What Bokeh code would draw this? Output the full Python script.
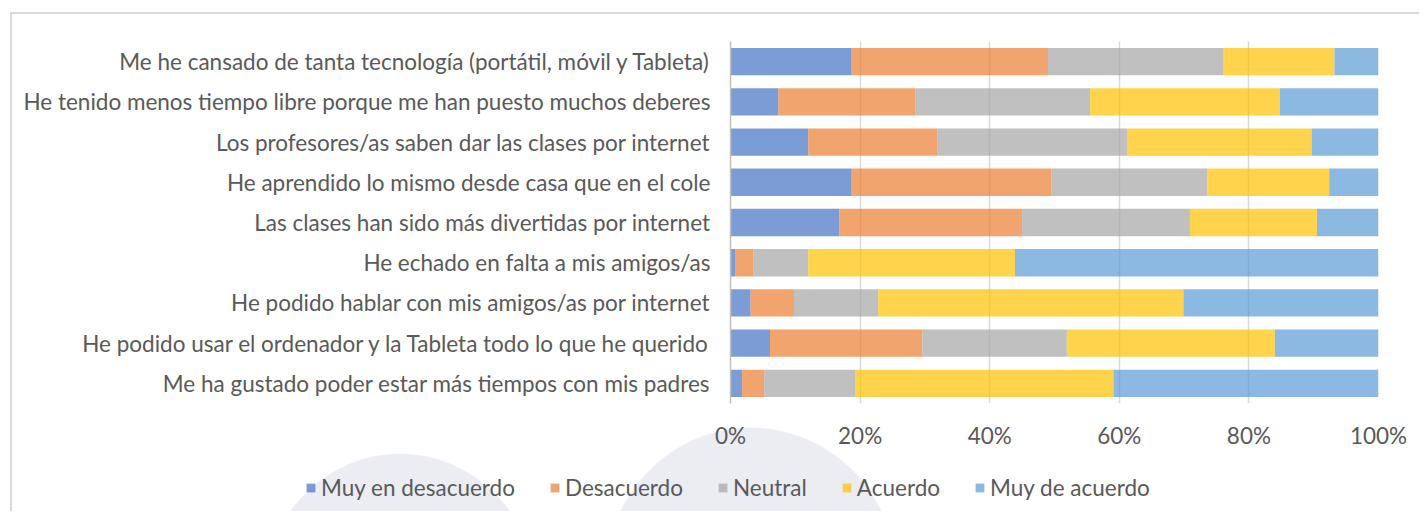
from bokeh.plotting import figure
from bokeh.layouts import column
from bokeh.models import (FactorRange, Range1d, FixedTicker, PrintfTickFormatter,
                          Legend, LegendItem, ColumnDataSource)
from bokeh.embed import file_html
from bokeh.resources import INLINE

statements = [
    "Me he cansado de tanta tecnología (portátil, móvil y Tableta)",
    "He tenido menos tiempo libre porque me han puesto muchos deberes",
    "Los profesores/as saben dar las clases por internet",
    "He aprendido lo mismo desde casa que en el cole",
    "Las clases han sido más divertidas por internet",
    "He echado en falta a mis amigos/as",
    "He podido hablar con mis amigos/as por internet",
    "He podido usar el ordenador y la Tableta todo lo que he querido",
    "Me ha gustado poder estar más tiempos con mis padres",
]
levels = ["Muy en desacuerdo", "Desacuerdo", "Neutral", "Acuerdo", "Muy de acuerdo"]

muy_en_desacuerdo = [18.7, 7.4, 12.0, 18.7, 16.8, 0.7, 3.1, 6.1, 1.8]
desacuerdo        = [30.3, 21.1, 19.9, 30.8, 28.2, 2.8, 6.7, 23.5, 3.4]
neutral           = [27.0, 27.0, 29.3, 24.1, 25.9, 8.5, 13.0, 22.3, 14.1]
acuerdo           = [17.2, 29.3, 28.5, 18.8, 19.6, 31.9, 47.1, 32.1, 39.8]
muy_de_acuerdo    = [6.8, 15.2, 10.3, 7.6, 9.5, 56.1, 30.1, 16.0, 40.9]

x_ticks = [0, 20, 40, 60, 80, 100]
colors = ["#4472C4", "#ED7D31", "#A5A5A5", "#FFC000", "#5B9BD5"]

FONT = "Lato"
FS = "22.5px"
TXT = "#595959"

source = ColumnDataSource(dict(
    statement=statements,
    **{levels[0]: muy_en_desacuerdo, levels[1]: desacuerdo, levels[2]: neutral,
       levels[3]: acuerdo, levels[4]: muy_de_acuerdo}))

W = 1419
HA, HB = 460, 51
FL, FT, FW, FH = 730, 41, 648, 362

# ---- main chart ----
p = figure(width=W, height=HA, output_backend="svg", toolbar_location=None,
           y_range=FactorRange(factors=list(reversed(statements))),
           x_range=Range1d(0, 100),
           min_border_left=FL, min_border_right=W - FL - FW,
           min_border_top=FT, min_border_bottom=HA - FT - FH)
p.frame_align = False
p.outline_line_color = None
p.background_fill_color = "white"
p.border_fill_color = None

p.hbar_stack(levels, y="statement", height=0.68, color=colors,
             fill_alpha=0.7, line_color=None, source=source)

p.xaxis.ticker = FixedTicker(ticks=x_ticks)
p.xaxis.formatter = PrintfTickFormatter(format="%d%%")
p.xaxis.axis_line_color = None
p.xaxis.major_tick_line_color = None
p.xaxis.minor_tick_line_color = None
p.xaxis.major_tick_out = 0
p.xaxis.major_tick_in = 0
p.xaxis.major_label_standoff = 18
p.xaxis.major_label_text_font = FONT
p.xaxis.major_label_text_font_size = FS
p.xaxis.major_label_text_color = TXT

p.yaxis.axis_line_color = "#BFBFBF"
p.yaxis.axis_line_width = 1.5
p.yaxis.major_tick_line_color = None
p.yaxis.minor_tick_line_color = None
p.yaxis.major_tick_out = 0
p.yaxis.major_tick_in = 0
p.yaxis.major_label_standoff = 20
p.yaxis.major_label_text_font = FONT
p.yaxis.major_label_text_font_size = FS
p.yaxis.major_label_text_color = TXT

p.xgrid.ticker = FixedTicker(ticks=x_ticks)
p.xgrid.grid_line_color = "#D9D9D9"
p.xgrid.grid_line_width = 1.5
p.ygrid.grid_line_color = None

# ---- legend strip (same series, renderers hidden; only their legend swatches show) ----
q = figure(width=W, height=HB, output_backend="svg", toolbar_location=None,
           x_axis_type=None, y_axis_type=None,
           x_range=Range1d(0, 100),
           y_range=FactorRange(factors=list(reversed(statements))),
           min_border_left=0, min_border_right=0, min_border_top=0, min_border_bottom=0)
q.frame_align = False
q.outline_line_color = None
q.background_fill_color = None
q.border_fill_color = None
swatches = q.hbar_stack(levels, y="statement", height=0.68, color=colors,
                        fill_alpha=0.7, line_color=None, source=source)
for r in swatches:
    r.visible = False
legend = Legend(items=[LegendItem(label=l, renderers=[r]) for l, r in zip(levels, swatches)],
                orientation="horizontal", location=(305, 10),
                glyph_width=11, glyph_height=11, label_standoff=5, spacing=34,
                padding=0, margin=0, border_line_color=None, background_fill_alpha=0,
                inactive_fill_alpha=0,
                label_text_font=FONT, label_text_font_size=FS,
                label_text_color=TXT)
q.add_layout(legend)

layout = column(p, q, spacing=0)
dome = "#ECECF3"
layout.styles = {
    "background": (
        "linear-gradient(#D9D9D9,#D9D9D9) 10px 12px / 3000px 2px no-repeat, "
        "linear-gradient(#D9D9D9,#D9D9D9) 10px 12px / 2px 3000px no-repeat, "
        f"radial-gradient(140px 150px at 400px 603px, {dome} 99%, rgba(236,236,243,0) 100%), "
        f"radial-gradient(146px 150px at 751px 577px, {dome} 99%, rgba(236,236,243,0) 100%), "
        "white"
    )
}

open("out.html", "w").write(file_html(layout, INLINE))
